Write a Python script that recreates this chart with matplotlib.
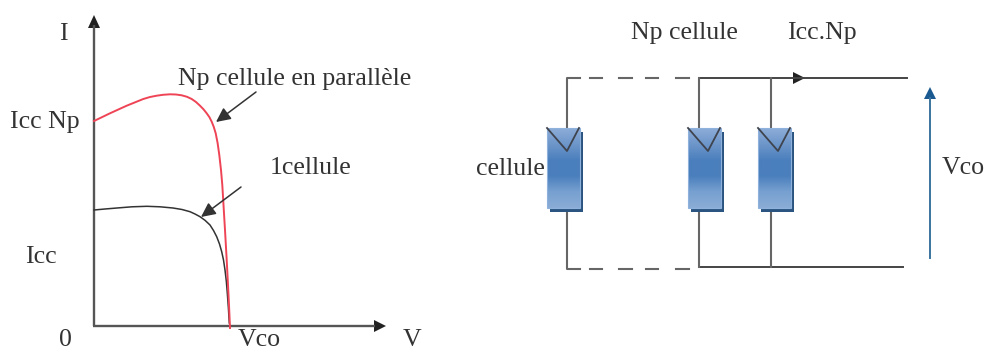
import numpy as np
import matplotlib
matplotlib.use("Agg")
import matplotlib.pyplot as plt
from matplotlib.colors import LinearSegmentedColormap
from matplotlib.patches import Rectangle, Polygon

plt.rcParams['font.family'] = ['Liberation Serif', 'DejaVu Serif']

# Curves (canvas pixels)
red_x = [94, 110, 126.7, 143.3, 150, 156.7, 163, 170, 176, 181.7, 187, 191.7, 196, 200, 203.5, 206.7, 209.5, 211.7, 213.8, 215.7, 217.6, 219.3, 221, 222.3, 223.5, 225, 226.7, 228, 229, 230]
red_y = [121, 113.3, 105.7, 99, 97, 95.7, 94.8, 94.3, 94.5, 95.3, 96.8, 99, 102, 105.7, 109.3, 113.3, 117.3, 121.7, 127, 133.3, 143, 155, 170, 185, 205, 230, 260, 285, 305, 328]
black_x = [94, 105, 117, 132, 147, 160, 173, 182, 190, 195, 200, 205, 210, 213.5, 216.7, 219.5, 221.7, 223.5, 225, 226.3, 227.3, 228.4, 229.3]
black_y = [210, 209, 208, 206.8, 206.3, 206.8, 208, 209.5, 211.7, 214, 216.7, 220.3, 225, 230.5, 236.7, 244, 251.7, 260, 270, 281, 293, 308, 323]
cell_lefts = [547, 688, 758]
cell_tips = [567, 708, 778]
wire_xs = [567, 699, 771]
labels = [
    ("I", 63, 39.5), ("Icc Np", 45, 128), ("Icc", 41, 263), ("0", 65, 346),
    ("Vco", 259, 346), ("V", 412, 346), ("Np cellule en parallèle", 295, 85),
    ("1cellule", 311, 174), ("cellule", 510, 175), ("Np cellule", 684, 39),
    ("Icc.Np", 822, 39), ("Vco", 963, 174),
]

fig = plt.figure(figsize=(9.86, 3.52), dpi=100)
ax = fig.add_axes([0, 0, 1, 1])
ax.set_xlim(0, 986)
ax.set_ylim(352, 0)
ax.axis('off')

dark = '#555555'
wire = '#666666'
# Axes
ax.plot([94, 94], [326, 25], color=dark, lw=1.7, solid_capstyle='butt')
ax.plot([93, 375], [326, 326], color=dark, lw=1.7, solid_capstyle='butt')
ax.add_patch(Polygon([[94, 15], [88, 28], [100, 28]], color='#222222', lw=0))
ax.add_patch(Polygon([[386, 326], [374, 320], [374, 332]], color='#222222', lw=0))
# Curves
ax.plot(black_x, black_y, color='#333333', lw=1.1, solid_joinstyle='round')
ax.plot(red_x, red_y, color='#ee4455', lw=1.4, solid_joinstyle='round')
# Leaders
for p0, p1 in [((256, 92), (216, 122)), ((241, 187), (201, 217))]:
    ax.annotate('', xy=p1, xytext=p0,
                arrowprops=dict(arrowstyle='-|>,head_length=0.62,head_width=0.3', color='#333333',
                                lw=1.1, shrinkA=0, shrinkB=0, mutation_scale=14))
# Wires
ax.plot([580, 567, 567], [78, 78, 128], color=wire, lw=1.5)
ax.plot([567, 567, 580], [208, 269, 269], color=wire, lw=1.5)
for x0, x1 in [(590, 602), (619, 632), (646, 658), (676, 689)]:
    ax.plot([x0, x1], [78, 78], color=wire, lw=1.5)
    ax.plot([x0, x1], [269, 269], color=wire, lw=1.5)
ax.plot([699, 907], [78, 78], color='#444444', lw=1.4)
ax.plot([699, 903], [267, 267], color='#444444', lw=1.4)
for x in wire_xs[1:]:
    ax.plot([x, x], [78, 128], color=wire, lw=1.5)
    ax.plot([x, x], [208, 267], color=wire, lw=1.5)
ax.add_patch(Polygon([[805, 78], [793, 72], [793, 84]], color='#222222', lw=0))
# Blue arrow
ax.plot([930, 930], [258, 98], color='#3a749f', lw=1.4)
ax.add_patch(Polygon([[930, 87], [924, 99], [936, 99]], color='#1a5a90', lw=0))
# Cells
cmap = LinearSegmentedColormap.from_list('cell', ['#8cacd8', '#6d96ca', '#4a7fbd', '#4a7fbd', '#77a0d0', '#8aacd6'])
grad = np.linspace(0, 1, 80).reshape(-1, 1)
for left, tip in zip(cell_lefts, cell_tips):
    ax.add_patch(Rectangle((left + 3, 132), 33, 79.5, color='#2b5580', lw=0, zorder=3))
    ax.imshow(grad, cmap=cmap, extent=(left, left + 33, 208, 128), aspect='auto', zorder=4,
              interpolation='bilinear')
    ax.add_patch(Rectangle((left, 128), 33, 80, fill=False, ec='#8fb2dc', lw=0.8, zorder=5))
    ax.plot([left, tip, left + 32], [128, 151, 128], color='#3f444e', lw=1.3, zorder=6)
ax.set_xlim(0, 986)
ax.set_ylim(352, 0)
# Text
for s, x, y in labels:
    ax.text(x, y, s, ha='center', va='baseline', fontsize=18.6, color='#333333', zorder=7)
fig.savefig('out.png', dpi=100)
